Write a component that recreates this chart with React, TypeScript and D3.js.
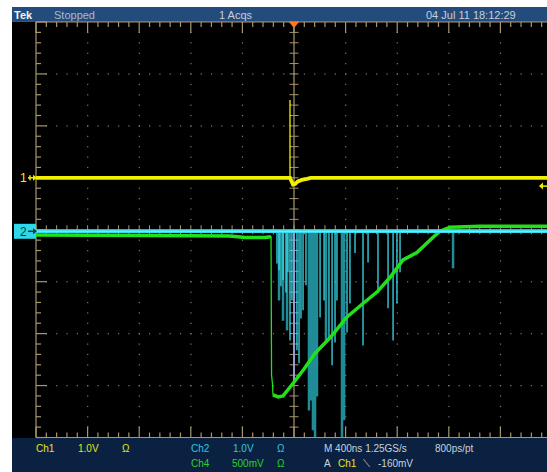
import React from "react";
import * as d3 from "d3";

// ---- Header / footer texts ----
const HEADER_TEXTS = ["Tek", "Stopped", "1 Acqs", "04 Jul 11 18:12:29"];
const FOOT_ROW1 = ["Ch1", "1.0V", "Ω", "Ch2", "1.0V", "Ω", "M 400ns 1.25GS/s", "800ps/pt"];
const FOOT_ROW2 = ["Ch4", "500mV", "Ω", "A", "Ch1", "⟍", "-160mV"];

// ---- Timebase: 400 ns/div, 10 div, trigger at centre ----
const TIME_DOMAIN = [-2000, 2000];

// ---- Channel settings (volts/div, position in div) ----
const CH1_SCALE = 1.0, CH1_POS = 1.0;
const CH2_SCALE = 1.0, CH2_POS = -0.03;
const CH4_SCALE = 0.5, CH4_POS = 0.0;
const TRIGGER_LEVEL = -0.16;

// ---- Ch1 (yellow) ----
const CH1_T = [-2000, -31, -28, -20, -8, 8, 30, 60, 100, 130, 2000];
const CH1_V = [0, 0, -0.02, -0.06, -0.13, -0.12, -0.07, -0.04, -0.02, 0, 0];
const CH1_SPIKE_T = [-31];
const CH1_SPIKE_V = [1.5];

// ---- Ch2 (cyan) baseline + glitches ----
const CH2_T = [-2000, 2000];
const CH2_V = [0, 0];
const CH2_BRIGHT_T = [-132, -116, -101, -85, -62, -47, -31, -16, 23, 39, 54, 70, 93, 202, 233, 271, 295, 318, 333, 411, 434, 473, 535, 574, 651, 729, 768, 798, 822];
const CH2_BRIGHT_V = [-0.62, -0.75, -1.06, -0.94, -1.18, -0.79, -2.1, -1.33, -2.29, -2.54, -1.68, -1.52, -1.04, -1.66, -1.33, -2.06, -2.58, -2.14, -1.33, -1.95, -1.39, -0.42, -2.2, -0.6, -1.19, -1.48, -2.1, -1.39, -0.79];
const CH2_DIM_T = [-116, -85, -54, 116, 132, 147, 163, 178, 248, 372, 388, 1233];
const CH2_DIM_V = [-1.33, -1.72, -1.91, -3.45, -3.26, -3.83, -3.97, -3.18, -2.1, -3.97, -3.64, -0.71];
const CH2_PALE_T = [0];
const CH2_PALE_V = [-2.87];

// ---- Ch4 (green) ----
const CH4_T = [-2000, -1116, -496, -380, -225, -178, -174, -167, -163, -124, -85, -8, 78, 163, 279, 411, 535, 643, 744, 845, 953, 1078, 1132, 1209, 1442, 2000];
const CH4_V = [-0.05, -0.055, -0.06, -0.075, -0.075, -0.068, -1.4, -1.48, -1.59, -1.61, -1.6, -1.48, -1.34, -1.19, -1.04, -0.84, -0.71, -0.6, -0.46, -0.29, -0.22, -0.072, -0.014, 0.024, 0.034, 0.034];

const W = 547, H = 472;
const GX0 = 36, GX1 = 552, GY0 = 22, GY1 = 437.5;

const TAN = "#a8966e";
const DOT = "#7c7c7c";
const YEL = "#f0f000";
const CYAN = "#38dcec";
const DIMCYAN = "#1f8c98";
const GREEN = "#22e01a";
const FONT = "'Liberation Sans', Arial, sans-serif";

export default function App() {
  const xDiv = d3.scaleLinear().domain([-5, 5]).range([GX0, GX1]);
  const yDiv = d3.scaleLinear().domain([-4, 4]).range([GY1, GY0]);
  const xT = d3.scaleLinear().domain(TIME_DOMAIN).range([GX0, GX1]);
  const yCh = (scale: number, pos: number) => (v: number) => yDiv(v / scale + pos);
  const y1 = yCh(CH1_SCALE, CH1_POS);
  const y2 = yCh(CH2_SCALE, CH2_POS);
  const y4 = yCh(CH4_SCALE, CH4_POS);

  const mkLine = (T: number[], V: number[], yf: (v: number) => number) =>
    d3.line<number>().x((i) => xT(T[i])).y((i) => yf(V[i]))(d3.range(T.length)) || "";
  const mkLineIdx = (T: number[], V: number[], yf: (v: number) => number, idx: number[]) =>
    d3.line<number>().x((i) => xT(T[i])).y((i) => yf(V[i]))(idx) || "";

  const minor = 0.2;
  const majorX = d3.range(-4, 5).filter((d) => d !== 0);
  const majorY = d3.range(-3, 4).filter((d) => d !== 0);
  const minorXs = d3.range(-5, 5.001, minor).map((d) => +d.toFixed(2));
  const minorYs = d3.range(-4, 4.001, minor).map((d) => +d.toFixed(2));
  const isMajor = (d: number) => Math.abs(d - Math.round(d)) < 1e-6;

  const grid: JSX.Element[] = [];
  majorX.forEach((mx) =>
    minorYs.forEach((my, j) => {
      if (Math.abs(my) > 3.99) return;
      grid.push(<rect key={`vx${mx}_${j}`} x={xDiv(mx) - 0.5} y={yDiv(my) - 0.5} width={1.2} height={1.2} fill={DOT} />);
    })
  );
  majorY.forEach((my) =>
    minorXs.forEach((mx, j) => {
      if (Math.abs(mx) > 4.99) return;
      grid.push(<rect key={`hy${my}_${j}`} x={xDiv(mx) - 0.5} y={yDiv(my) - 0.5} width={1.2} height={1.2} fill={DOT} />);
    })
  );

  const ticks: JSX.Element[] = [];
  minorXs.forEach((d, j) => {
    const len = isMajor(d) ? 11 : 5;
    const x = xDiv(d);
    ticks.push(<line key={`tt${j}`} x1={x} x2={x} y1={GY0} y2={GY0 + len} stroke={TAN} strokeWidth={1.2} />);
    ticks.push(<line key={`tb${j}`} x1={x} x2={x} y1={GY1} y2={GY1 - len} stroke={TAN} strokeWidth={1.2} />);
    ticks.push(<line key={`tc${j}`} x1={x} x2={x} y1={yDiv(0) - 4.5} y2={yDiv(0) + 4.5} stroke={TAN} strokeWidth={1} />);
  });
  minorYs.forEach((d, j) => {
    const len = isMajor(d) ? 11 : 5;
    const y = yDiv(d);
    ticks.push(<line key={`tl${j}`} x1={GX0} x2={GX0 + len} y1={y} y2={y} stroke={TAN} strokeWidth={1.2} />);
    ticks.push(<line key={`tv${j}`} x1={xDiv(0) - 4.5} x2={xDiv(0) + 4.5} y1={y} y2={y} stroke={TAN} strokeWidth={1} />);
  });

  const spikeLines = (T: number[], V: number[], yf: (v: number) => number, color: string, w: number, k: string) =>
    T.map((t, i) => (
      <line key={`${k}${i}`} x1={xT(t)} x2={xT(t)} y1={yf(0) + 1} y2={yf(V[i])} stroke={color} strokeWidth={w} />
    ));

  const ch4Thick1 = d3.range(0, 6);
  const ch4Thick2 = d3.range(8, CH4_T.length);

  const yTrig = y1(TRIGGER_LEVEL);
  const y1m = y1(0);
  const y2m = y2(0);

  const footColors1 = ["#e6e61e", "#e6e61e", "#e6e61e", "#2ec8e0", "#2ec8e0", "#2ec8e0", "#c8d2de", "#c8d2de"];
  const footX1 = [36, 78, 122, 191, 233, 277, 324, 435];
  const footColors2 = ["#2ed02e", "#2ed02e", "#2ed02e", "#c8d2de", "#e6e61e", "#c8d2de", "#c8d2de"];
  const footX2 = [191, 232, 277, 324, 338, 363, 378];

  return (
    <svg width={W} height={H} style={{ position: "absolute", left: 0, top: 0, display: "block" }} fontFamily={FONT}>
      <defs>
        <clipPath id="scr">
          <rect x={GX0} y={GY0} width={W - GX0} height={GY1 - GY0} />
        </clipPath>
      </defs>
      <rect x={0} y={0} width={W} height={H} fill="#ffffff" />
      <rect x={12} y={7} width={W - 12} height={14.5} fill="#234c7c" />
      <rect x={12} y={21.5} width={W - 12} height={417} fill="#000000" />
      <rect x={12} y={438} width={W - 12} height={H - 438} fill="#0b2141" />

      {/* header texts */}
      <text x={14} y={18.5} fontSize={11} fill="#eef2f8" fontWeight="bold">{HEADER_TEXTS[0]}</text>
      <text x={54} y={18.5} fontSize={11} fill="#a8b8d0">{HEADER_TEXTS[1]}</text>
      <text x={219} y={18.5} fontSize={11} fill="#c4cedc">{HEADER_TEXTS[2]}</text>
      <text x={426} y={18.5} fontSize={11} fill="#c4cedc">{HEADER_TEXTS[3]}</text>

      {/* graticule */}
      {grid}
      <line x1={GX0} x2={W} y1={GY0} y2={GY0} stroke={TAN} strokeWidth={1.2} />
      <line x1={GX0} x2={W} y1={GY1} y2={GY1} stroke={TAN} strokeWidth={1.2} />
      <line x1={GX0} x2={GX0} y1={GY0} y2={GY1} stroke={TAN} strokeWidth={1.2} />
      <line x1={xDiv(0)} x2={xDiv(0)} y1={GY0} y2={GY1} stroke={TAN} strokeWidth={1.2} />
      <line x1={GX0} x2={W} y1={yDiv(0)} y2={yDiv(0)} stroke={TAN} strokeWidth={1.2} />
      {ticks}

      {/* traces */}
      <g clipPath="url(#scr)">
        {spikeLines(CH2_DIM_T, CH2_DIM_V, y2, DIMCYAN, 2.5, "d")}
        {spikeLines(CH2_BRIGHT_T, CH2_BRIGHT_V, y2, CYAN, 1.3, "b")}
        {spikeLines(CH2_PALE_T, CH2_PALE_V, y2, "#a4a8f4", 1.6, "p")}
        <path d={mkLine(CH4_T, CH4_V, y4)} fill="none" stroke={GREEN} strokeWidth={1.3} />
        <path d={mkLineIdx(CH4_T, CH4_V, y4, ch4Thick1)} fill="none" stroke={GREEN} strokeWidth={3.5} />
        <path d={mkLineIdx(CH4_T, CH4_V, y4, ch4Thick2)} fill="none" stroke={GREEN} strokeWidth={3.5} />
        <path d={mkLine(CH2_T, CH2_V, y2)} fill="none" stroke={CYAN} strokeWidth={3.5} />
        <path d={mkLine(CH2_T, CH2_V, y2)} fill="none" stroke="#b4f2f8" strokeWidth={0.8} opacity={0.8} />
        {spikeLines(CH1_SPIKE_T, CH1_SPIKE_V, y1, YEL, 1.3, "y")}
        <path d={mkLine(CH1_T, CH1_V, y1)} fill="none" stroke={YEL} strokeWidth={3.8} />
      </g>

      {/* trigger position marker */}
      <path d={`M${xDiv(0) - 5},${GY0} L${xDiv(0) + 5},${GY0} L${xDiv(0)},${GY0 + 6} Z`} fill="#ff7a1a" />

      {/* trigger level arrow (right) */}
      <path d={`M${W - 8},${yTrig} L${W - 4},${yTrig - 3.5} L${W - 4},${yTrig + 3.5} Z`} fill={YEL} />
      <line x1={W - 5} x2={W} y1={yTrig} y2={yTrig} stroke={YEL} strokeWidth={1.5} />

      {/* channel 1 marker */}
      <text x={20} y={y1m + 4.5} fontSize={12} fill={YEL}>1</text>
      <line x1={28} x2={36} y1={y1m} y2={y1m} stroke={YEL} strokeWidth={1.5} />
      <line x1={30} x2={30} y1={y1m - 2.5} y2={y1m + 2.5} stroke={YEL} strokeWidth={1.5} />
      <path d={`M${37},${y1m} L${33},${y1m - 3} L${33},${y1m + 3} Z`} fill={YEL} />

      {/* channel 2 marker */}
      <rect x={14} y={y2m - 7.5} width={22} height={15} fill="#2ed8e8" />
      <text x={20} y={y2m + 4.5} fontSize={12} fill="#0b3a44">2</text>
      <line x1={28} x2={36} y1={y2m} y2={y2m} stroke="#0b3a44" strokeWidth={1.5} />
      <path d={`M${37},${y2m} L${33},${y2m - 3} L${33},${y2m + 3} Z`} fill="#0b3a44" />

      {/* footer */}
      {FOOT_ROW1.map((s, i) => (
        <text key={`f1${i}`} x={footX1[i]} y={452} fontSize={10} fill={footColors1[i]}>{s}</text>
      ))}
      {FOOT_ROW2.map((s, i) => (
        <text key={`f2${i}`} x={footX2[i]} y={466.5} fontSize={10} fill={footColors2[i]}>{s}</text>
      ))}
    </svg>
  );
}
